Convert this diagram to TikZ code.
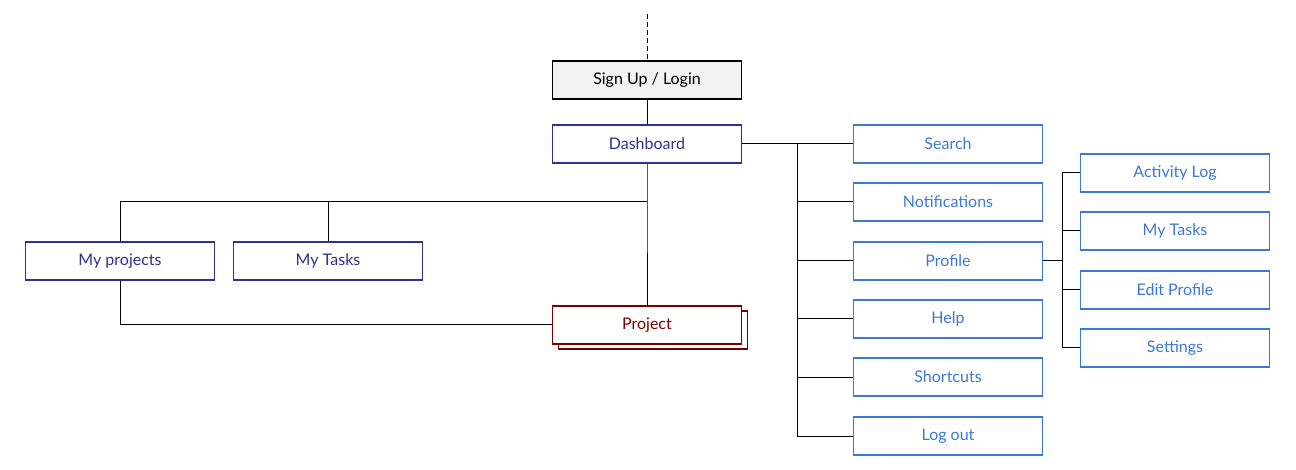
\documentclass[tikz,border=0pt]{standalone}
\usepackage{fontspec}
\setmainfont{Lato}
\usepackage{xcolor}
\usetikzlibrary{positioning,calc}

\definecolor{navy}{RGB}{46,49,146}
\definecolor{skyblue}{RGB}{60,120,216}
\definecolor{darkred}{RGB}{122,0,0}
\definecolor{lightgray}{RGB}{242,242,242}

\begin{document}
\begin{tikzpicture}[
  x=1pt, y=-1pt,
  every node/.style={align=center, font=\fontsize{16}{19}\selectfont}, % all labels
  box/.style={draw, line width=1.6pt, minimum width=189pt, minimum height=38pt, inner sep=0pt},
  topbox/.style={box, fill=lightgray, draw=black, text=black},
  mainbox/.style={box, fill=white, draw=navy, text=navy},
  menubox/.style={box, fill=white, draw=skyblue, text=skyblue},
  projbox/.style={box, fill=white, draw=darkred, text=darkred},
  link/.style={line width=1pt}
]
\useasboundingbox (0,0) rectangle (1296,470);

% main column
\node[topbox] (login) at (647,80) {Sign Up / Login};
\node[mainbox] (dash) at (647,144) {Dashboard};
\node[mainbox] (myproj) at (120,261) {My projects};
\node[mainbox] (mytasks) at (328,261) {My Tasks};
\node[projbox] (projback) at (653,330) {};
\node[projbox] (proj) at (647,325) {Project};

% dashboard menu
\node[menubox] (search) at (948,144) {Search};
\node[menubox] (notif) at (948,202) {Notifications};
\node[menubox] (profile) at (948,261) {Profile};
\node[menubox] (help) at (948,319) {Help};
\node[menubox] (short) at (948,377) {Shortcuts};
\node[menubox] (logout) at (948,436) {Log out};

% profile menu
\node[menubox] (activity) at (1175,173) {Activity Log};
\node[menubox] (ptasks) at (1175,231) {My Tasks};
\node[menubox] (edit) at (1175,290) {Edit Profile};
\node[menubox] (settings) at (1175,348) {Settings};

\coordinate (entry) at (647,14);
\coordinate (split) at (647,202);
\coordinate (menutrunk) at (797,144);
\coordinate (proftrunk) at (1062,261);

\draw[link, dash pattern=on 5pt off 3pt] (entry) -- (login);
\draw[link] (login) -- (dash);
\draw[link] (dash) -- (split) -- (proj);
\draw[link] (split) -| (myproj);
\draw[link] (mytasks) -- (mytasks |- split);
\draw[link] (myproj) |- (proj);

\draw[link] (dash) -- (search);
\foreach \n in {notif,profile,help,short,logout}
  \draw[link] (menutrunk) |- (\n);

\draw[link] (profile) -- (proftrunk);
\foreach \n in {activity,ptasks,edit,settings}
  \draw[link] (proftrunk) |- (\n);
\end{tikzpicture}
\end{document}
